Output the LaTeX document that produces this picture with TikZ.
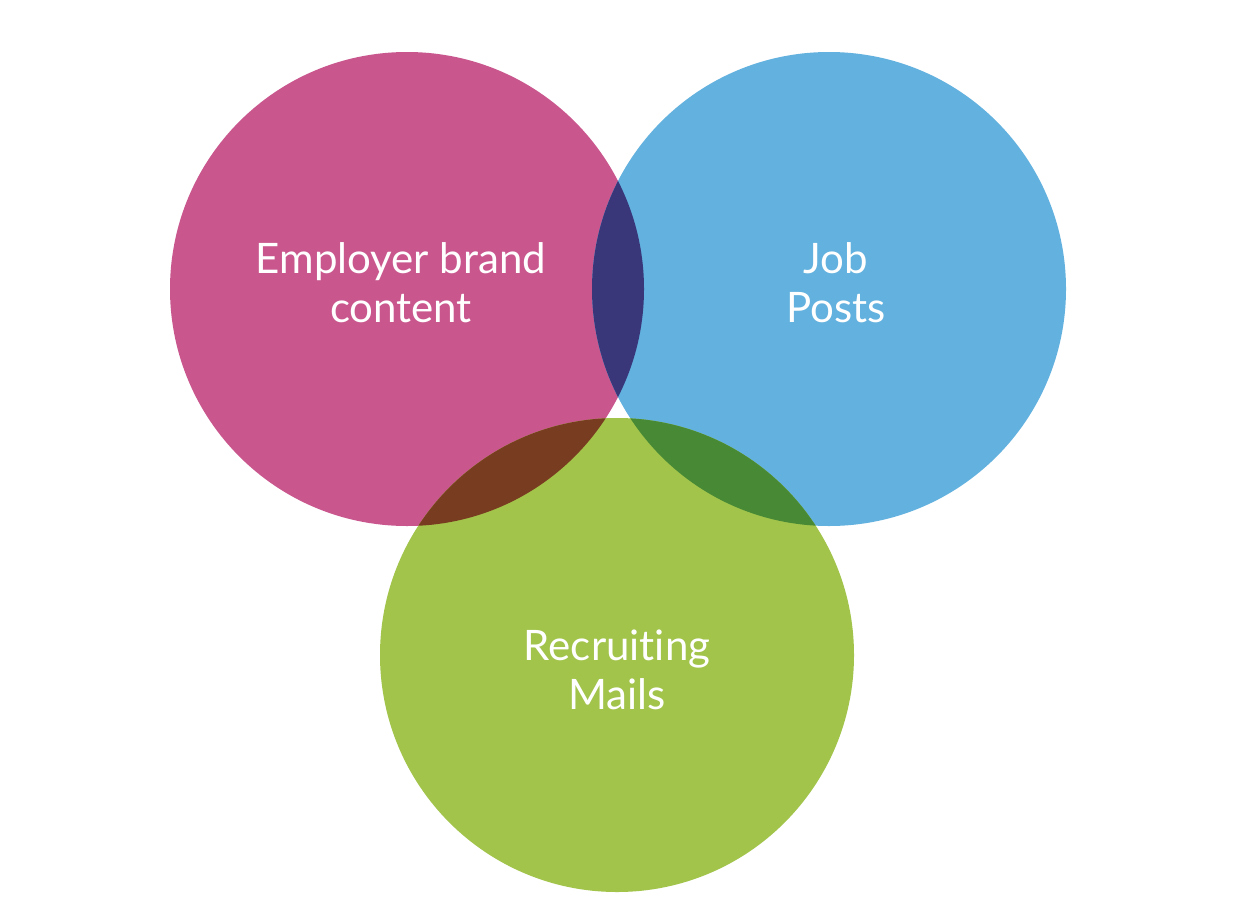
\documentclass[tikz,border=0pt]{standalone}
\usepackage{fontspec}
\setmainfont{Lato}[Ligatures={NoCommon}]
\usetikzlibrary{calc,positioning}
\definecolor{brandpink}{HTML}{C9578E}
\definecolor{postblue}{HTML}{62B1DE}
\definecolor{mailgreen}{HTML}{A2C44B}
\definecolor{pinkblue}{HTML}{39377A}
\definecolor{pinkgreen}{HTML}{783C20}
\definecolor{bluegreen}{HTML}{478935}
\newlength{\setrad}
\setlength{\setrad}{237pt}
\tikzset{
  setlbl/.style={
    text=white,
    font=\fontsize{42}{49}\selectfont,
    align=center,
    inner sep=0pt
  },
}
\newcommand{\SetDisc}[1]{(#1) circle[radius=\setrad]}

\begin{document}
\begin{tikzpicture}[x=1pt,y=-1pt]
  \useasboundingbox[fill=white] (0,0) rectangle (1258,918);
  \coordinate (Cbrand) at (407,289);
  \coordinate (Cpost) at (829,289);
  \coordinate (Cmail) at (617,655);
  % the three sets
  \fill[brandpink] \SetDisc{Cbrand};
  \fill[postblue] \SetDisc{Cpost};
  \fill[mailgreen] \SetDisc{Cmail};
  % pairwise overlaps
  \begin{scope}
    \clip \SetDisc{Cbrand};
    \fill[pinkblue] \SetDisc{Cpost};
    \fill[pinkgreen] \SetDisc{Cmail};
  \end{scope}
  \begin{scope}
    \clip \SetDisc{Cpost};
    \fill[bluegreen] \SetDisc{Cmail};
  \end{scope}
  \node[setlbl] (Lbrand) at (401,283) {Employer brand\\content};
  \node[setlbl] (Lpost) at (836,283) {Job\\Posts};
  \node[setlbl] (Lmail) at (617,670) {Recruiting\\Mails};
\end{tikzpicture}
\end{document}
